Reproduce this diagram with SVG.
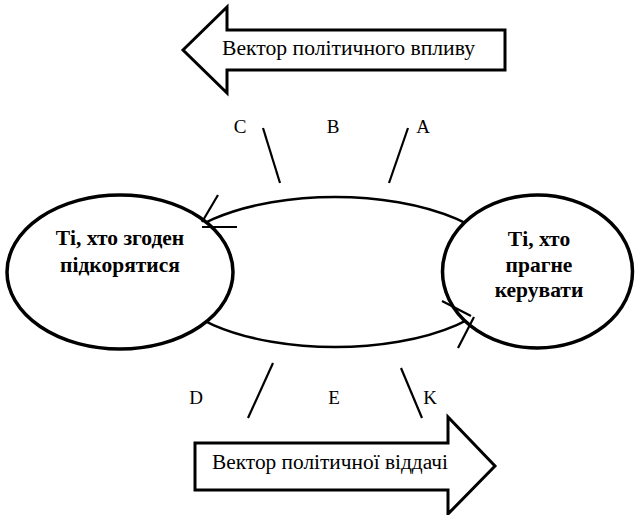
<svg xmlns="http://www.w3.org/2000/svg" width="637" height="515" viewBox="0 0 637 515">
<style>
.arrow{fill:#fff;stroke:#000;stroke-width:3;stroke-linejoin:miter}
.node{fill:#fff;stroke:#000;stroke-width:3.5}
.lens{fill:none;stroke:#000;stroke-width:2.5}
.ln{stroke:#000;stroke-width:2.2;fill:none}
text{font-family:'Liberation Serif','Times New Roman',serif;fill:#000}
.lbl{font-size:19px}
.vec{font-size:20px}
.nt{font-size:21.5px;font-weight:bold;text-anchor:middle}
</style>
<rect width="637" height="515" fill="#fff"/>
<g id="vector-influence">
<polygon class="arrow" points="183,50 227,7 227,30 505,30 505,70 227,70 227,93"/>
<text class="vec" x="222" y="55" textLength="253" lengthAdjust="spacingAndGlyphs">Вектор політичного впливу</text>
</g>
<g id="vector-return">
<polygon class="arrow" points="195,443 448,443 448,417 495,466 448,514 448,490 195,490"/>
<text class="vec" x="212" y="469" textLength="236" lengthAdjust="spacingAndGlyphs">Вектор політичної віддачі</text>
</g>
<g id="connectors">
<ellipse class="lens" cx="335" cy="272" rx="172" ry="75"/>
</g>
<g id="node-left">
<ellipse class="node" cx="120" cy="272" rx="113" ry="77"/>
<text class="nt" x="120" y="245">Ті, хто згоден</text>
<text class="nt" x="120" y="272">підкорятися</text>
</g>
<g id="node-right">
<ellipse class="node" cx="537.5" cy="271.5" rx="95" ry="76.5"/>
<text class="nt" x="539" y="246">Ті, хто</text>
<text class="nt" x="539" y="272">прагне</text>
<text class="nt" x="539" y="297">керувати</text>
</g>
<g id="arrowheads">
<line class="ln" x1="218" y1="195" x2="202" y2="222"/>
<line class="ln" x1="202" y1="227" x2="237" y2="227"/>
<line class="ln" x1="442" y1="301" x2="471" y2="316"/>
<line class="ln" x1="474" y1="317" x2="458" y2="348"/>
</g>
<g id="spokes">
<line class="ln" x1="263" y1="128" x2="280" y2="183"/>
<line class="ln" x1="408" y1="128" x2="389" y2="183"/>
<line class="ln" x1="273" y1="363" x2="248" y2="418"/>
<line class="ln" x1="401" y1="368" x2="422" y2="418"/>
</g>
<g id="labels">
<text class="lbl" x="240" y="133" text-anchor="middle">C</text>
<text class="lbl" x="333" y="133" text-anchor="middle">B</text>
<text class="lbl" x="423" y="133" text-anchor="middle">A</text>
<text class="lbl" x="196" y="404" text-anchor="middle">D</text>
<text class="lbl" x="334" y="404" text-anchor="middle">E</text>
<text class="lbl" x="430" y="404" text-anchor="middle">K</text>
</g>
</svg>
